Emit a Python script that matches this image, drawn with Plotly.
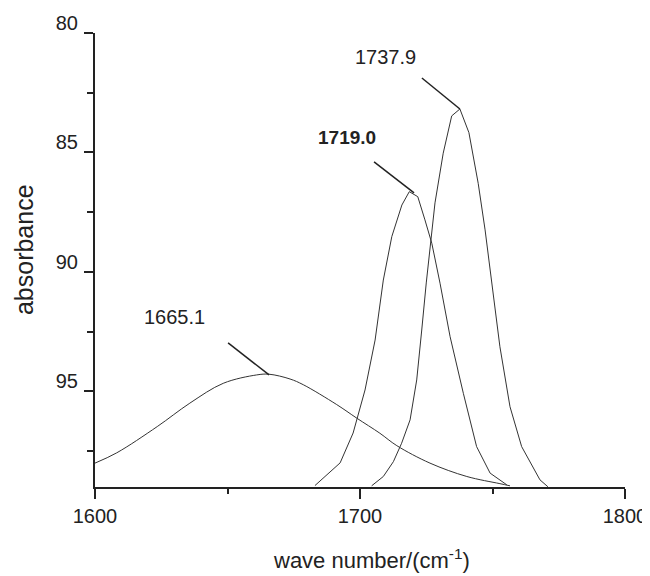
import plotly.graph_objects as go

# ---- data ----
peak1_x = [1600.0, 1608.2, 1623.5, 1635.8, 1648.4, 1661.0, 1665.7, 1673.6, 1678.6,
           1691.2, 1698.8, 1707.5, 1713.9, 1726.4, 1740.3, 1752.8, 1756.6]
peak1_y = [98.00, 97.57, 96.47, 95.49, 94.66, 94.31, 94.28, 94.48, 94.72,
           95.55, 96.12, 96.75, 97.27, 98.00, 98.56, 98.86, 98.95]

peak2_x = [1683.0, 1692.5, 1697.4, 1701.9, 1705.7, 1708.8, 1712.0, 1715.8, 1718.6,
           1721.8, 1724.5, 1727.1, 1730.2, 1734.0, 1739.0, 1744.0, 1749.1, 1755.4]
peak2_y = [98.94, 97.99, 96.74, 94.94, 92.85, 90.34, 88.52, 87.20, 86.64,
           86.85, 87.82, 88.80, 90.47, 92.71, 95.08, 97.31, 98.42, 98.91]

peak3_x = [1704.4, 1708.8, 1712.6, 1715.7, 1718.9, 1721.4, 1723.3, 1725.0, 1728.3,
           1731.4, 1734.6, 1737.7, 1741.1, 1744.6, 1747.2, 1749.7, 1752.8, 1756.6,
           1761.0, 1767.9, 1770.9]
peak3_y = [98.95, 98.56, 97.94, 97.17, 96.19, 94.52, 92.43, 90.46, 87.11,
           85.03, 83.47, 83.18, 84.17, 86.29, 88.24, 90.46, 93.13, 95.64,
           97.31, 98.70, 98.99]

peak_labels = ["1665.1", "1719.0", "1737.9"]
peak_pos_x = [1665.7, 1720.4, 1737.7]
peak_pos_y = [94.31, 86.69, 83.18]

x_ticks = [1600, 1700, 1800]
y_ticks = [80, 85, 90, 95]

# ---- figure ----
INK = "#222222"
FONT = "Liberation Sans, Arial, sans-serif"

fig = go.Figure()
for xs, ys, shape in [(peak1_x, peak1_y, "spline"),
                      (peak2_x, peak2_y, "linear"),
                      (peak3_x, peak3_y, "linear")]:
    fig.add_trace(go.Scatter(x=xs, y=ys, mode="lines",
                             line=dict(color="#333333", width=1, shape=shape),
                             hoverinfo="skip", showlegend=False))

# leader lines (tail offsets in px, up = positive) and label offsets (px)
leader = [(-41, 32), (-40, 31), (-38, 31)]
text_off = [(-95, 58), (-67, 55), (-74, 52)]
bold = [False, True, False]
for i in range(3):
    fig.add_shape(type="line", xref="x", yref="y",
                  xsizemode="pixel", ysizemode="pixel",
                  xanchor=peak_pos_x[i], yanchor=peak_pos_y[i],
                  x0=leader[i][0], y0=leader[i][1], x1=0, y1=0,
                  line=dict(color=INK, width=1.5))
    txt = f"<b>{peak_labels[i]}</b>" if bold[i] else peak_labels[i]
    fig.add_annotation(x=peak_pos_x[i], y=peak_pos_y[i], xref="x", yref="y",
                       text=txt, showarrow=False,
                       xshift=text_off[i][0], yshift=text_off[i][1],
                       font=dict(family=FONT, size=20 if not bold[i] else 19, color=INK))

# axis titles
fig.add_annotation(x=-0.134, y=0.524, xref="paper", yref="paper",
                   xanchor="center", yanchor="middle",
                   text="absorbance", textangle=-90, showarrow=False,
                   font=dict(family=FONT, size=25, color=INK))
fig.add_annotation(x=0.522, y=-0.158, xref="paper", yref="paper",
                   xanchor="center", yanchor="middle",
                   text="wave number/(cm<sup>-1</sup>)", showarrow=False,
                   font=dict(family=FONT, size=22, color=INK))

fig.update_layout(
    width=642, height=568,
    margin=dict(l=87, r=25, t=25, b=89, autoexpand=False),
    paper_bgcolor="white", plot_bgcolor="white",
    font=dict(family=FONT, color=INK, size=20),
    xaxis=dict(range=[1600, 1800], tickvals=x_ticks, ticks="outside", ticklen=10,
               tickwidth=2, tickcolor=INK, showline=True, linewidth=2, linecolor=INK,
               showgrid=False, zeroline=False, tickfont=dict(size=20), automargin=False,
               minor=dict(dtick=50, tick0=1600, ticks="outside", ticklen=5,
                          tickwidth=2, tickcolor=INK, showgrid=False)),
    yaxis=dict(range=[99, 80], tickvals=y_ticks, ticks="outside", ticklen=9,
               tickwidth=2, tickcolor=INK, showline=True, linewidth=2, linecolor=INK,
               showgrid=False, zeroline=False, tickfont=dict(size=20), automargin=False,
               ticklabelshift=10, ticklabelstandoff=2,
               minor=dict(dtick=2.5, tick0=80, ticks="outside", ticklen=6,
                          tickwidth=2, tickcolor=INK, showgrid=False)),
)

fig.write_html("out.html")
